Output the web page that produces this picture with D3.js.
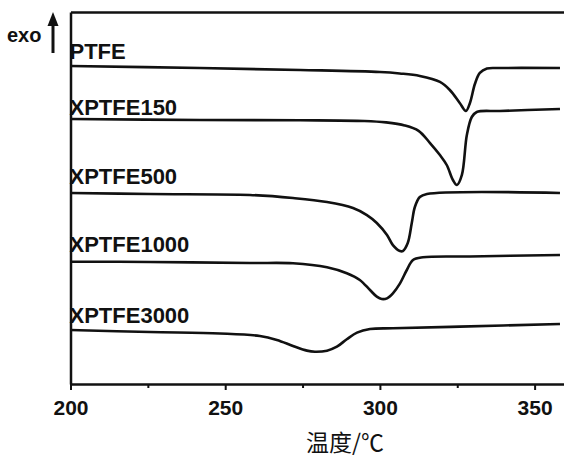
<!DOCTYPE html>
<html>
<head>
<meta charset="utf-8">
<script src="https://cdn.jsdelivr.net/npm/d3@7"></script>
<style>
  html, body { margin: 0; padding: 0; background: #fff; }
  svg { display: block; }
  .lbl { font-family: "Liberation Sans", Arial, sans-serif; font-weight: bold; }
</style>
</head>
<body>
<svg id="chart" width="564" height="458"></svg>
<script>
// DSC melting curves (temperature in °C, heat flow in arbitrary units, curves offset vertically)
const seriesNames = ["PTFE", "XPTFE150", "XPTFE500", "XPTFE1000", "XPTFE3000"];

const ptfe = [
  [200, 26.5], [241.8, 26.33], [274.2, 26.17], [300, 26.0], [306.4, 25.88],
  [312.9, 25.67], [319.4, 25.17], [322.6, 24.5], [325.8, 23.42], [327.8, 22.75],
  [329.1, 23.42], [330.7, 25.0], [332.3, 25.92], [334.6, 26.29], [338.8, 26.33],
  [358.2, 26.33]
];
const xptfe150 = [
  [200, 22.08], [241.8, 22.0], [274.2, 21.98], [295, 21.92], [302, 21.8],
  [308, 21.55], [312.5, 21.1], [316.2, 20.08], [319.4, 19.08], [321.6, 18.25],
  [323.6, 17.0], [324.9, 16.58], [326.5, 17.42], [328.1, 20.75], [329.7, 22.25],
  [331.3, 22.67], [338.8, 22.75], [358.2, 22.92]
];
const xptfe500 = [
  [200, 15.92], [225.7, 15.83], [258.0, 15.75], [271.9, 15.5], [282.9, 15.17],
  [291.3, 14.67], [295.8, 14.08], [299.0, 13.42], [302.3, 12.42], [304.2, 11.58],
  [306.5, 11.08], [307.4, 11.08], [309.0, 11.75], [310.3, 13.42], [311.3, 14.75],
  [312.9, 15.58], [315.2, 15.83], [358.2, 15.92]
];
const xptfe1000 = [
  [200, 10.19], [225.7, 10.17], [258.0, 10.08], [271.9, 10.06], [282.9, 9.73],
  [289.3, 9.23], [293.5, 8.67], [296.8, 7.83], [299.0, 7.28], [300.6, 7.08],
  [302.3, 7.14], [304.2, 7.56], [306.5, 8.39], [308.7, 9.5], [310.7, 10.33],
  [313.9, 10.56], [329.1, 10.63], [358.2, 10.75]
];
const xptfe3000 = [
  [200, 4.5], [225.7, 4.33], [248.3, 4.21], [261.2, 4.0], [266.7, 3.67],
  [271.9, 3.17], [276.4, 2.78], [279.0, 2.69], [282.9, 2.78], [286.1, 3.11],
  [289.3, 3.73], [292.6, 4.28], [296.8, 4.58], [304.2, 4.64], [325.8, 4.78],
  [358.2, 5.0]
];
const seriesValues = [ptfe, xptfe150, xptfe500, xptfe1000, xptfe3000];
// label baseline heights in heat-flow units
const labelLevels = [27.1, 22.4, 16.7, 11.0, 5.1];

const xTicks = [200, 250, 300, 350];
const xMinorTicks = [225, 275, 325];
const xTitle = "温度/℃";
const yTitle = "exo";

const svg = d3.select("#chart");
const plotLeft = 70.5, plotRight = 564, plotTop = 12, plotBottom = 384;

const x = d3.scaleLinear().domain([200, 359.5]).range([plotLeft, plotRight]);
const y = d3.scaleLinear().domain([0, 31]).range([plotBottom, plotTop]);

// frame: left and top spines
svg.append("g")
  .attr("transform", `translate(${plotLeft},0)`)
  .call(d3.axisLeft(y).tickValues([]).tickSizeOuter(0))
  .call(g => g.select(".domain").attr("stroke", "#111").attr("stroke-width", 2.5));
svg.append("g")
  .attr("transform", `translate(0,${plotTop})`)
  .call(d3.axisTop(x).tickValues([]).tickSizeOuter(0))
  .call(g => g.select(".domain").attr("stroke", "#111").attr("stroke-width", 2.5));

// bottom axis with minor ticks
svg.append("g")
  .attr("transform", `translate(0,${plotBottom})`)
  .call(d3.axisBottom(x).tickValues(xMinorTicks).tickSize(4).tickSizeOuter(0).tickFormat(""))
  .call(g => g.select(".domain").remove())
  .call(g => g.selectAll("line").attr("stroke", "#111").attr("stroke-width", 2));
const xAxis = svg.append("g")
  .attr("transform", `translate(0,${plotBottom})`)
  .call(d3.axisBottom(x).tickValues(xTicks).tickSize(6).tickSizeOuter(0).tickPadding(10))
  .call(g => g.select(".domain").attr("stroke", "#111").attr("stroke-width", 2.5))
  .call(g => g.selectAll("line").attr("stroke", "#111").attr("stroke-width", 2));
xAxis.selectAll("text")
  .attr("class", "lbl")
  .attr("fill", "#111")
  .style("font-size", "21px");

// curves
const line = d3.line()
  .x(d => x(d[0]))
  .y(d => y(d[1]))
  .curve(d3.curveCatmullRom.alpha(0.5));

svg.append("g")
  .selectAll("path")
  .data(seriesValues)
  .join("path")
  .attr("d", line)
  .attr("fill", "none")
  .attr("stroke", "#111")
  .attr("stroke-width", 2.6)
  .attr("stroke-linejoin", "round");

// series labels
svg.append("g")
  .selectAll("text")
  .data(seriesNames)
  .join("text")
  .attr("class", "lbl")
  .attr("x", plotLeft - 1)
  .attr("y", (d, i) => y(labelLevels[i]))
  .attr("fill", "#111")
  .style("font-size", "22px")
  .text(d => d);

// exo arrow
svg.append("text")
  .attr("class", "lbl")
  .attr("x", 7)
  .attr("y", 42)
  .attr("fill", "#111")
  .style("font-size", "20px")
  .text(yTitle);
svg.append("line")
  .attr("x1", 53).attr("x2", 53)
  .attr("y1", 53).attr("y2", 22)
  .attr("stroke", "#111").attr("stroke-width", 3);
svg.append("path")
  .attr("d", "M53,12 L47.5,26 L58.5,26 Z")
  .attr("fill", "#111");

// x axis title
svg.append("text")
  .attr("x", 345)
  .attr("y", 451)
  .attr("text-anchor", "middle")
  .attr("fill", "#111")
  .style("font-family", "'Noto Sans CJK SC', sans-serif")
  .style("font-size", "23px")
  .text(xTitle);
</script>
</body>
</html>
